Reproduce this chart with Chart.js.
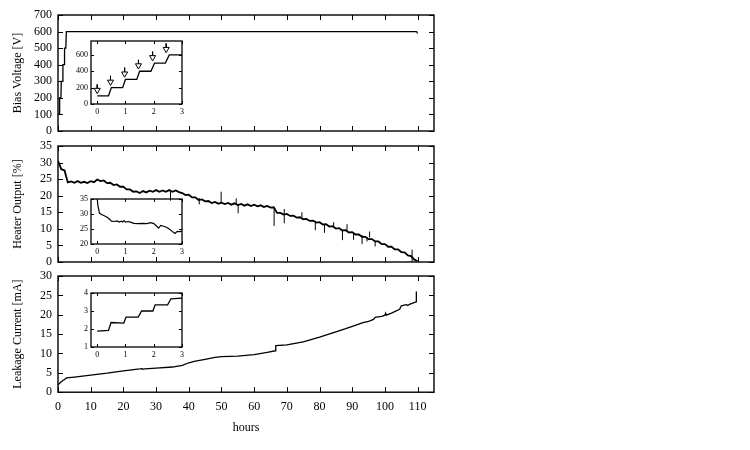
<!DOCTYPE html>
<html>
<head>
<meta charset="utf-8">
<script src="https://cdn.jsdelivr.net/npm/chart.js@4.4.0/dist/chart.umd.min.js"></script>
<style>
  body { margin: 0; background: #fff; width: 750px; height: 450px; position: relative; overflow: hidden; }
  canvas { position: absolute; }
</style>
</head>
<body>
<canvas id="bias" width="440" height="130" style="left:0;top:5px"></canvas>
<canvas id="heater" width="440" height="130" style="left:0;top:136px"></canvas>
<canvas id="leak" width="440" height="170" style="left:0;top:266px"></canvas>
<canvas id="biasIn" width="118" height="82" style="left:70px;top:36px"></canvas>
<canvas id="heaterIn" width="118" height="64" style="left:70px;top:194px"></canvas>
<canvas id="leakIn" width="118" height="73" style="left:70px;top:288px"></canvas>
<script>
// axis ticks
const hourTicks = [0, 10, 20, 30, 40, 50, 60, 70, 80, 90, 100, 110];
const biasTicks = [0, 100, 200, 300, 400, 500, 600, 700];
const heaterTicks = [0, 5, 10, 15, 20, 25, 30, 35];
const leakTicks = [0, 5, 10, 15, 20, 25, 30];
const insetHourTicks = [0, 1, 2, 3];
const insetBiasTicks = [0, 200, 400, 600];
const insetHeaterTicks = [20, 25, 30, 35];
const insetLeakTicks = [1, 2, 3, 4];

// bias voltage [V]
const biasHours = [0, 0.4, 0.5, 0.9, 1.0, 1.4, 1.5, 1.9, 2.0, 2.4, 2.55, 109.6, 109.8];
const biasValues = [100, 100, 200, 200, 300, 300, 400, 400, 500, 500, 600, 600, 595];

// heater output [%], one reading per hour 0..110
const heaterValues = [
  30.5, 28.0, 27.6, 24.0, 24.3, 23.9, 24.4, 23.9, 24.2, 23.8,
  24.4, 24.1, 24.9, 24.4, 24.6, 23.8, 23.9, 23.2, 23.4, 22.7,
  22.7, 21.9, 21.9, 21.2, 21.3, 20.8, 21.4, 21.0, 21.5, 21.2,
  21.7, 21.2, 21.6, 21.2, 21.7, 21.2, 21.6, 21.1, 20.8, 20.2,
  20.3, 19.5, 19.5, 18.7, 18.9, 18.3, 18.4, 17.8, 18.1, 17.6,
  17.9, 17.5, 17.8, 17.3, 17.7, 17.2, 17.5, 17.0, 17.4, 16.9,
  17.3, 16.8, 17.1, 16.6, 16.9, 16.4, 16.5, 14.8, 14.8, 14.3,
  14.5, 13.9, 14.0, 13.4, 13.5, 12.9, 13.0, 12.4, 12.5, 11.9,
  12.0, 11.3, 11.4, 10.7, 10.8, 10.1, 10.2, 9.5, 9.6, 8.9,
  9.0, 8.3, 8.3, 7.6, 7.6, 6.9, 6.9, 6.2, 6.2, 5.4,
  5.4, 4.6, 4.6, 3.8, 3.8, 3.0, 2.9, 2.0, 1.8, 0.7,
  0.3
];
// short glitches in heater output
const spikeHours = [34.4, 43.2, 49.9, 54.5, 55.1, 66.1, 69.2, 74.6, 78.7, 81.5, 84.3, 87.0, 88.4, 90.4, 93.0, 94.5, 95.3, 97.0, 108.3];
const spikeLow = [18.5, 17.4, 17.9, 17.5, 14.7, 10.9, 11.7, 13.4, 9.6, 8.8, 10.5, 6.6, 9.3, 6.7, 5.4, 6.2, 7.4, 4.7, 0];
const spikeHigh = [21.5, 19.3, 21.2, 19.2, 17.5, 16.4, 16.0, 15.0, 12.4, 11.6, 12.0, 9.6, 11.4, 8.7, 8.1, 7.4, 9.2, 6.4, 3.7];

// leakage current [mA]
const leakHours = [0, 0.5, 1, 1.5, 2, 2.6, 5, 10, 15, 20, 25, 25.8, 26, 26.5, 30, 35, 38, 40, 42, 45, 48, 50, 55, 60, 64, 66.5, 66.6, 70, 75, 80, 85, 88, 90, 92, 93, 95, 96.5, 97, 99, 100, 100.2, 100.4, 102, 104.5, 105, 106.5, 107, 107.5, 109.5, 109.6];
const leakValues = [1.9, 2.3, 2.7, 3.0, 3.3, 3.7, 3.9, 4.4, 4.9, 5.5, 6.0, 6.1, 5.9, 6.0, 6.2, 6.5, 6.9, 7.6, 8.0, 8.5, 9.0, 9.2, 9.3, 9.7, 10.3, 10.7, 12.0, 12.2, 13.0, 14.2, 15.6, 16.4, 17.0, 17.6, 17.9, 18.3, 18.8, 19.3, 19.6, 19.9, 20.4, 19.9, 20.4, 21.4, 22.3, 22.6, 22.4, 22.7, 23.3, 26.0];

// insets: first three hours
const inBiasHours = [0, 0.4, 0.5, 0.9, 1.0, 1.4, 1.5, 1.9, 2.03, 2.41, 2.55, 3];
const inBiasValues = [100, 100, 200, 200, 300, 300, 400, 400, 500, 500, 600, 600];
const arrowHours = [0, 0.47, 0.97, 1.46, 1.96, 2.44];
const arrowHead = [170, 270, 370, 470, 570, 670];
const arrowTail = [240, 345, 445, 540, 640, 740];

const inHeaterHours = [0, 0.03, 0.08, 0.15, 0.25, 0.35, 0.45, 0.5, 0.6, 0.7, 0.78, 0.85, 0.9, 0.95, 1.0, 1.1, 1.2, 1.3, 1.45, 1.6, 1.75, 1.9, 2.0, 2.1, 2.17, 2.25, 2.35, 2.45, 2.55, 2.65, 2.75, 2.83, 2.9, 3.0];
const inHeaterValues = [35, 32.5, 30.3, 29.8, 29.4, 28.9, 28.2, 27.6, 27.5, 27.7, 27.3, 27.6, 27.3, 27.8, 27.3, 27.5, 27.2, 26.9, 26.8, 26.9, 26.8, 27.1, 26.8, 26.0, 25.3, 26.2, 25.9, 25.6, 25.0, 24.2, 23.5, 24.2, 24.1, 24.2];

const inLeakHours = [0, 0.4, 0.49, 0.94, 1.02, 1.45, 1.57, 1.97, 2.05, 2.49, 2.61, 3];
const inLeakValues = [1.88, 1.92, 2.36, 2.33, 2.66, 2.66, 3.0, 3.0, 3.34, 3.34, 3.68, 3.72];

Chart.defaults.font.family = "'Liberation Serif', 'DejaVu Serif', serif";
Chart.defaults.color = '#000';

const xy = (xs, ys) => xs.map((x, i) => ({ x, y: ys[i] }));

// gnuplot style frame with inward ticks on all four sides
const framePlugin = {
  id: 'frame',
  afterDatasetsDraw(chart, args, o) {
    const { ctx, chartArea: a } = chart;
    const x = chart.scales.x, y = chart.scales.y;
    ctx.save();
    ctx.strokeStyle = '#000';
    ctx.lineWidth = o.lw;
    ctx.beginPath();
    x.ticks.forEach(t => {
      const px = Math.round(x.getPixelForValue(t.value)) + 0.5;
      ctx.moveTo(px, a.bottom); ctx.lineTo(px, a.bottom - o.len);
      ctx.moveTo(px, a.top); ctx.lineTo(px, a.top + o.len);
    });
    y.ticks.forEach(t => {
      const py = Math.round(y.getPixelForValue(t.value)) + 0.5;
      ctx.moveTo(a.left, py); ctx.lineTo(a.left + o.len, py);
      ctx.moveTo(a.right, py); ctx.lineTo(a.right - o.len, py);
    });
    ctx.stroke();
    ctx.lineWidth = o.frame;
    ctx.strokeRect(a.left, a.top, a.right - a.left, a.bottom - a.top);
    ctx.restore();
  }
};

function lineSet(data, width) {
  return { data, borderColor: '#000', borderWidth: width, pointRadius: 0, tension: 0, fill: false, spanGaps: false, order: 2 };
}

function makeChart(id, cfg) {
  const fontSize = cfg.inset ? 8 : 12;
  return new Chart(document.getElementById(id), {
    type: 'line',
    data: { datasets: cfg.datasets },
    options: {
      responsive: false,
      animation: false,
      devicePixelRatio: 1,
      layout: { padding: cfg.padding },
      plugins: {
        legend: { display: false },
        tooltip: { enabled: false },
        frame: { lw: 1, frame: cfg.inset ? 1.3 : 1.4, len: cfg.inset ? 3 : 5 }
      },
      scales: {
        x: {
          type: 'linear',
          min: cfg.xMin, max: cfg.xMax,
          afterBuildTicks: s => { s.ticks = cfg.xTicks.map(v => ({ value: v })); },
          afterFit: s => { s.paddingLeft = 0; s.paddingRight = 0; s.height = cfg.xHeight; },
          grid: { display: false, drawTicks: false, tickLength: 0 },
          border: { display: false },
          ticks: { display: cfg.xLabels, autoSkip: false, maxRotation: 0, padding: cfg.inset ? 3 : 7, font: { size: fontSize } },
          title: cfg.xTitle ? { display: true, text: cfg.xTitle, font: { size: 12 }, padding: { top: 7, bottom: 0 } } : { display: false }
        },
        y: {
          type: 'linear',
          min: cfg.yMin, max: cfg.yMax,
          afterBuildTicks: s => { s.ticks = cfg.yTicks.map(v => ({ value: v })); },
          afterFit: s => { s.width = cfg.yWidth; s.paddingTop = 0; s.paddingBottom = 0; },
          grid: { display: false, drawTicks: false, tickLength: 0 },
          border: { display: false },
          ticks: { autoSkip: false, padding: cfg.inset ? 3 : 6, font: { size: fontSize } },
          title: cfg.yTitle ? { display: true, text: cfg.yTitle, font: { size: 12 }, padding: { top: 10.5, bottom: 0 } } : { display: false }
        }
      }
    },
    plugins: [framePlugin]
  });
}

// heater glitches as vertical segments
const spikeData = [];
spikeHours.forEach((h, i) => {
  spikeData.push({ x: h, y: spikeLow[i] }, { x: h, y: spikeHigh[i] }, { x: h, y: null });
});

// arrows marking the voltage steps
const shaftData = [];
arrowHours.forEach((h, i) => {
  shaftData.push({ x: h, y: arrowTail[i] }, { x: h, y: arrowHead[i] }, { x: h, y: null });
});

const heaterHours = heaterValues.map((v, i) => i);

makeChart('bias', {
  datasets: [lineSet(xy(biasHours, biasValues), 1.3)],
  xMin: 0, xMax: 115, xTicks: hourTicks, xLabels: false, xHeight: 0,
  yMin: 0, yMax: 700, yTicks: biasTicks, yWidth: 58, yTitle: 'Bias Voltage [V]',
  padding: { top: 10, bottom: 4, left: 0, right: 6 }
});

makeChart('heater', {
  datasets: [lineSet(spikeData, 1), lineSet(xy(heaterHours, heaterValues), 1.8)],
  xMin: 0, xMax: 115, xTicks: hourTicks, xLabels: false, xHeight: 0,
  yMin: 0, yMax: 35, yTicks: heaterTicks, yWidth: 58, yTitle: 'Heater Output [%]',
  padding: { top: 10, bottom: 4, left: 0, right: 6 }
});

makeChart('leak', {
  datasets: [lineSet(xy(leakHours, leakValues), 1.3)],
  xMin: 0, xMax: 115, xTicks: hourTicks, xLabels: true, xTitle: 'hours', xHeight: 42.8,
  yMin: 0, yMax: 30, yTicks: leakTicks, yWidth: 58, yTitle: 'Leakage Current [mA]',
  padding: { top: 10, bottom: 1, left: 0, right: 6 }
});

makeChart('biasIn', {
  inset: true,
  datasets: [
    { data: xy(arrowHours, arrowHead), showLine: false, pointStyle: 'triangle', rotation: 180, pointRadius: 3.5,
      pointBackgroundColor: '#fff', pointBorderColor: '#000', pointBorderWidth: 1, order: 0 },
    Object.assign(lineSet(shaftData, 1), { order: 1 }),
    lineSet(xy(inBiasHours, inBiasValues), 1.3)
  ],
  xMin: -0.22, xMax: 3, xTicks: insetHourTicks, xLabels: true, xHeight: 12,
  yMin: 0, yMax: 770, yTicks: insetBiasTicks, yWidth: 21,
  padding: { top: 5, bottom: 2, left: 0, right: 6 }
});

makeChart('heaterIn', {
  inset: true,
  datasets: [lineSet(xy(inHeaterHours, inHeaterValues), 1.2)],
  xMin: -0.22, xMax: 3, xTicks: insetHourTicks, xLabels: true, xHeight: 12,
  yMin: 20, yMax: 35, yTicks: insetHeaterTicks, yWidth: 21,
  padding: { top: 5, bottom: 2, left: 0, right: 6 }
});

makeChart('leakIn', {
  inset: true,
  datasets: [lineSet(xy(inLeakHours, inLeakValues), 1.3)],
  xMin: -0.22, xMax: 3, xTicks: insetHourTicks, xLabels: true, xHeight: 12,
  yMin: 1, yMax: 4, yTicks: insetLeakTicks, yWidth: 21,
  padding: { top: 5, bottom: 2, left: 0, right: 6 }
});
</script>
</body>
</html>
